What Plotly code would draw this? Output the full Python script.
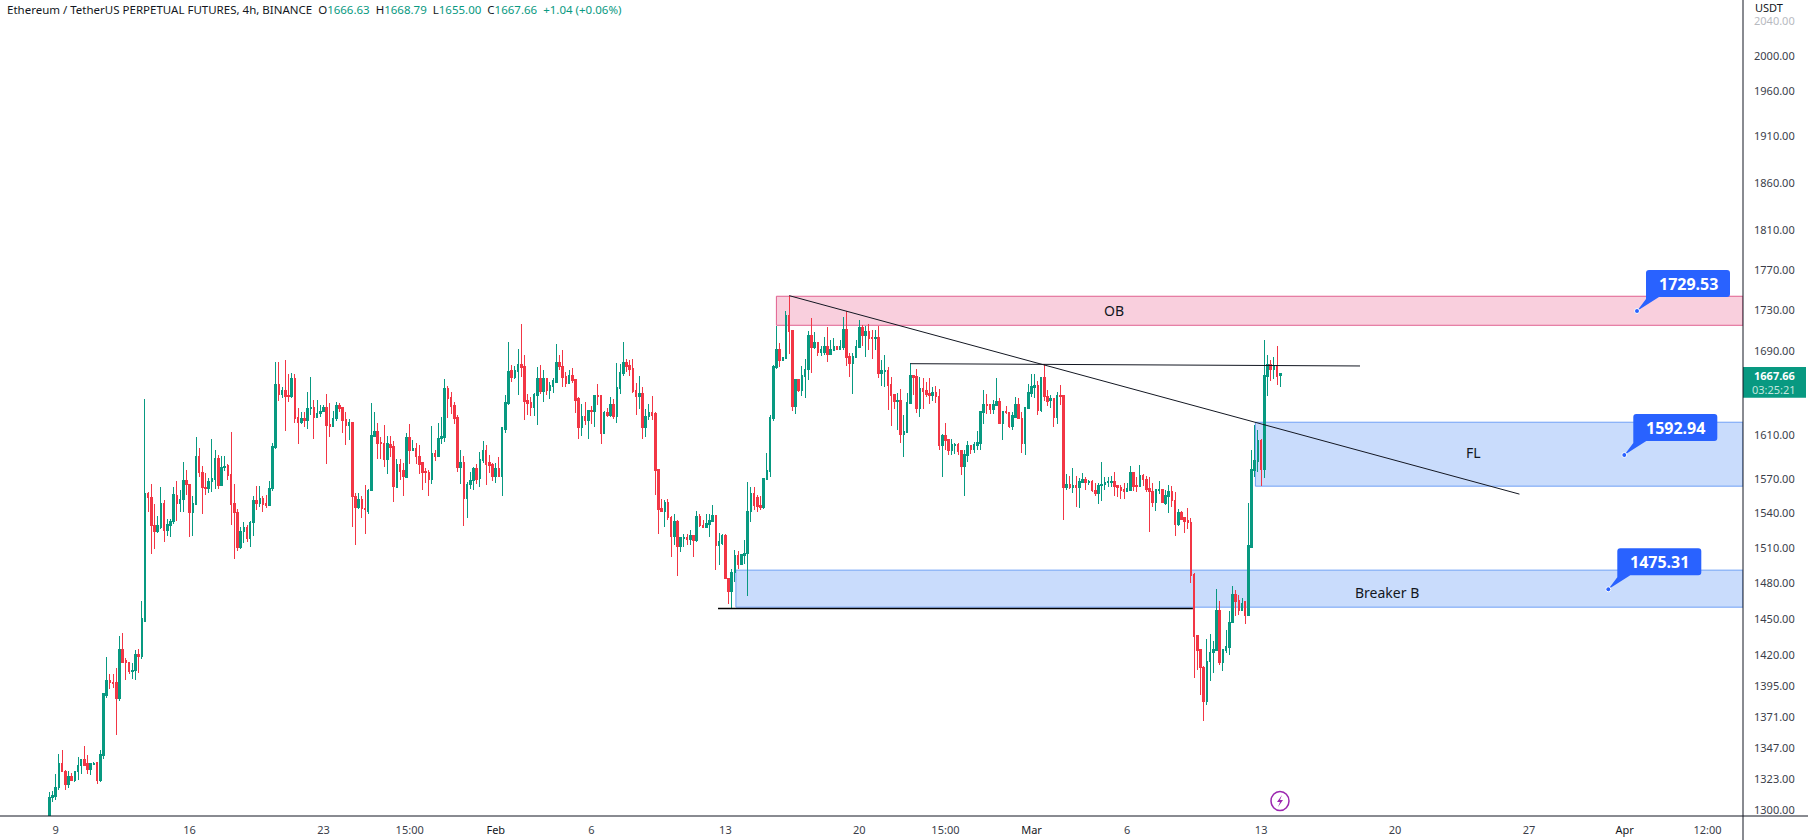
import math
import pandas as pd
import plotly.graph_objects as go

GREEN = "#089981"
RED = "#F23645"
BLUE = "#2962FF"
INK = "#131722"
FONT = "Noto Sans"
PLOT_W, PLOT_H = 1743, 816

opens = [
1296,1309,1310,1317,1335,1329,1319,1325,1322,1329,
1333,1338,1335,1330,1334,1336,1322,1341,1388,1400,
1398,1398,1385,1425,1416,1414,1407,1408,1421,1419,
1448,1558,1554,1529,1524,1528,1549,1525,1529,1533,
1556,1549,1552,1569,1566,1541,1548,1591,1576,1563,
1562,1568,1570,1589,1565,1581,1583,1575,1549,1541,
1510,1524,1528,1518,1532,1551,1549,1553,1549,1547,
1562,1599,1658,1648,1652,1647,1646,1663,1627,1622,
1626,1624,1635,1636,1627,1630,1632,1636,1620,1618,
1626,1638,1636,1625,1619,1622,1555,1545,1552,1544,
1542,1560,1609,1614,1604,1603,1588,1602,1600,1563,
1584,1578,1572,1608,1596,1598,1591,1585,1577,1576,
1570,1594,1591,1607,1608,1654,1645,1638,1627,1581,
1585,1553,1566,1569,1580,1571,1587,1596,1585,1584,
1573,1580,1573,1616,1640,1671,1664,1670,1677,1675,
1643,1641,1636,1647,1663,1651,1663,1652,1656,1660,
1679,1675,1665,1659,1666,1662,1644,1617,1628,1624,
1633,1632,1647,1647,1612,1631,1629,1639,1628,1654,
1668,1679,1676,1673,1652,1646,1649,1617,1628,1631,
1630,1579,1544,1542,1550,1536,1520,1533,1511,1518,
1519,1517,1521,1516,1537,1529,1528,1530,1533,1538,
1512,1514,1521,1484,1473,1489,1503,1496,1503,1505,
1542,1558,1554,1547,1545,1570,1577,1626,1674,1691,
1681,1682,1724,1710,1637,1662,1652,1665,1672,1705,
1693,1698,1688,1688,1694,1686,1690,1694,1691,1693,
1711,1684,1678,1683,1693,1713,1705,1709,1703,1702,
1703,1668,1670,1671,1658,1648,1642,1643,1611,1613,
1640,1666,1665,1635,1654,1652,1649,1647,1650,1646,
1601,1610,1606,1596,1601,1602,1596,1582,1592,1601,
1597,1601,1603,1631,1639,1639,1634,1638,1642,1621,
1632,1631,1618,1627,1639,1626,1603,1635,1649,1655,
1657,1633,1664,1646,1643,1644,1627,1647,1647,1563,
1566,1563,1565,1563,1567,1570,1567,1568,1560,1558,
1565,1566,1567,1567,1568,1565,1563,1561,1559,1560,
1576,1565,1564,1574,1570,1562,1559,1550,1560,1561,
1549,1555,1559,1551,1530,1541,1536,1534,1532,1487,
1436,1425,1410,1383,1415,1422,1424,1457,1414,1424,
1426,1447,1470,1465,1457,1464,1453,1510,1578,1586,
1605,1579,1665,1677,1672,1676,1666.63]

highs = [
1313,1314,1327,1342,1345,1330,1329,1328,1329,1340,
1338,1348,1341,1335,1336,1336,1345,1389,1419,1405,
1405,1410,1436,1438,1418,1414,1414,1424,1425,1465,
1644,1559,1566,1548,1538,1563,1552,1535,1535,1563,
1569,1561,1586,1579,1566,1555,1609,1599,1582,1576,
1571,1607,1597,1592,1591,1591,1584,1613,1566,1544,
1528,1532,1530,1533,1555,1564,1564,1555,1556,1569,
1603,1679,1679,1655,1681,1668,1669,1668,1636,1632,
1632,1651,1665,1643,1643,1638,1638,1649,1640,1633,
1641,1640,1636,1632,1625,1622,1558,1558,1555,1565,
1562,1640,1632,1622,1609,1620,1610,1610,1605,1589,
1589,1585,1612,1621,1606,1603,1601,1585,1580,1579,
1619,1597,1622,1627,1663,1656,1651,1641,1629,1597,
1591,1568,1577,1581,1584,1595,1605,1601,1592,1585,
1585,1590,1617,1648,1698,1676,1675,1692,1716,1686,
1649,1646,1650,1674,1676,1671,1664,1660,1664,1696,
1686,1691,1670,1671,1673,1663,1646,1639,1641,1634,
1637,1647,1658,1648,1633,1636,1646,1644,1678,1677,
1698,1682,1681,1682,1659,1666,1655,1635,1639,1647,
1632,1579,1553,1552,1553,1538,1539,1534,1519,1522,
1522,1525,1521,1542,1539,1534,1539,1539,1547,1538,
1523,1522,1522,1484,1492,1508,1507,1505,1517,1568,
1563,1563,1556,1555,1571,1594,1629,1676,1714,1697,
1683,1729,1744,1710,1662,1663,1675,1682,1709,1722,
1708,1698,1695,1703,1713,1700,1702,1694,1700,1723,
1729,1688,1688,1700,1720,1715,1714,1716,1710,1710,
1714,1681,1686,1674,1665,1649,1650,1653,1629,1650,
1678,1666,1672,1665,1664,1660,1664,1655,1656,1653,
1611,1622,1607,1607,1603,1603,1596,1597,1605,1601,
1604,1614,1632,1652,1649,1639,1643,1664,1645,1632,
1637,1632,1632,1646,1645,1632,1636,1658,1668,1668,
1661,1665,1677,1652,1648,1644,1651,1657,1647,1575,
1573,1580,1573,1571,1576,1572,1570,1570,1567,1567,
1586,1572,1572,1573,1577,1565,1565,1567,1567,1582,
1576,1572,1583,1575,1573,1572,1567,1562,1569,1562,
1561,1565,1564,1559,1544,1542,1537,1545,1536,1488,
1436,1425,1411,1433,1437,1432,1475,1465,1425,1441,
1456,1477,1474,1470,1467,1465,1549,1597,1620,1615,
1607,1700,1686,1681,1684,1695,1668.79]

lows = [
1290,1306,1307,1315,1329,1315,1316,1322,1321,1322,
1327,1333,1327,1326,1334,1319,1321,1338,1386,1393,
1394,1357,1383,1414,1400,1405,1401,1400,1406,1417,
1448,1541,1505,1509,1523,1526,1515,1520,1519,1531,
1533,1541,1541,1556,1519,1520,1547,1572,1539,1556,
1558,1559,1562,1562,1564,1578,1570,1530,1500,1507,
1509,1514,1515,1511,1520,1543,1546,1541,1545,1547,
1560,1598,1642,1645,1614,1641,1645,1622,1602,1621,
1618,1616,1629,1607,1626,1627,1632,1584,1609,1618,
1623,1632,1612,1601,1606,1528,1512,1544,1536,1522,
1539,1560,1609,1589,1589,1581,1575,1590,1550,1563,
1570,1555,1572,1584,1596,1584,1575,1561,1567,1555,
1566,1587,1591,1602,1604,1626,1630,1621,1577,1566,
1529,1536,1562,1561,1566,1563,1585,1565,1576,1569,
1567,1573,1555,1612,1638,1660,1663,1648,1665,1624,
1629,1628,1628,1620,1649,1641,1648,1644,1650,1659,
1671,1655,1655,1658,1659,1631,1607,1610,1620,1607,
1621,1618,1638,1602,1611,1627,1627,1625,1622,1649,
1666,1670,1666,1650,1629,1635,1607,1609,1624,1624,
1556,1522,1541,1528,1534,1502,1512,1486,1506,1511,
1512,1512,1502,1515,1528,1527,1527,1519,1532,1491,
1495,1512,1484,1462,1459,1481,1492,1495,1496,1469,
1532,1543,1541,1543,1544,1570,1572,1623,1672,1674,
1681,1682,1687,1633,1630,1651,1647,1645,1662,1669,
1692,1685,1685,1686,1679,1686,1690,1691,1691,1691,
1675,1665,1649,1683,1693,1695,1684,1691,1682,1691,
1664,1656,1655,1634,1619,1635,1615,1603,1590,1613,
1640,1648,1631,1627,1635,1646,1639,1642,1640,1597,
1572,1597,1592,1592,1593,1592,1574,1555,1586,1593,
1594,1597,1597,1621,1630,1630,1630,1638,1621,1606,
1630,1617,1615,1626,1625,1594,1592,1635,1646,1645,
1629,1632,1642,1637,1636,1618,1621,1638,1534,1561,
1562,1558,1546,1545,1567,1561,1565,1559,1555,1548,
1551,1561,1563,1563,1555,1554,1553,1553,1559,1560,
1560,1559,1563,1564,1559,1524,1546,1542,1557,1549,
1547,1540,1546,1520,1529,1534,1523,1526,1480,1402,
1408,1388,1368,1380,1399,1406,1424,1412,1407,1422,
1420,1447,1452,1453,1457,1446,1453,1510,1572,1577,
1564,1571,1647,1661,1663,1657,1655.00]

closes = [
1309,1311,1317,1335,1329,1319,1325,1322,1329,1333,
1338,1333,1330,1335,1335,1322,1342,1389,1400,1398,
1397,1385,1425,1414,1414,1407,1408,1421,1419,1450,
1558,1554,1529,1524,1529,1549,1525,1530,1533,1557,
1549,1552,1569,1566,1541,1549,1591,1576,1563,1562,
1568,1571,1589,1565,1581,1582,1574,1548,1541,1510,
1524,1528,1518,1532,1551,1549,1553,1548,1547,1562,
1600,1658,1648,1652,1646,1646,1663,1626,1622,1626,
1624,1635,1636,1627,1630,1632,1636,1619,1618,1626,
1638,1635,1624,1619,1622,1555,1545,1552,1544,1543,
1560,1610,1614,1603,1603,1588,1603,1599,1564,1584,
1577,1573,1608,1596,1598,1591,1584,1576,1576,1570,
1594,1591,1607,1609,1654,1644,1637,1626,1581,1585,
1553,1566,1569,1580,1570,1588,1596,1584,1583,1573,
1580,1573,1617,1641,1670,1664,1671,1677,1674,1642,
1640,1636,1648,1663,1651,1663,1652,1657,1661,1679,
1675,1664,1659,1666,1661,1643,1617,1628,1624,1633,
1632,1647,1646,1612,1631,1629,1639,1628,1655,1669,
1679,1675,1672,1651,1646,1649,1617,1628,1631,1629,
1578,1543,1542,1550,1536,1520,1533,1511,1519,1519,
1517,1521,1516,1537,1529,1528,1531,1534,1538,1512,
1515,1521,1484,1473,1489,1503,1496,1504,1505,1542,
1558,1547,1546,1545,1571,1578,1627,1675,1691,1681,
1683,1724,1709,1637,1662,1652,1666,1672,1705,1693,
1698,1688,1691,1694,1686,1691,1694,1691,1694,1711,
1683,1678,1684,1694,1713,1705,1709,1702,1702,1703,
1668,1671,1671,1657,1647,1642,1643,1611,1614,1641,
1666,1664,1635,1654,1651,1648,1647,1650,1646,1601,
1610,1605,1596,1602,1602,1595,1582,1593,1601,1597,
1602,1604,1632,1639,1638,1634,1639,1642,1621,1632,
1631,1618,1629,1639,1626,1603,1636,1650,1656,1657,
1633,1664,1646,1642,1644,1627,1647,1646,1563,1566,
1563,1565,1563,1568,1570,1567,1568,1560,1558,1565,
1566,1567,1568,1568,1564,1563,1560,1559,1562,1576,
1564,1564,1574,1570,1561,1559,1550,1561,1561,1550,
1556,1559,1551,1530,1541,1535,1533,1532,1486,1435,
1424,1410,1383,1415,1422,1425,1457,1414,1425,1427,
1447,1470,1464,1457,1463,1453,1512,1579,1587,1605,
1579,1666,1677,1672,1676,1665,1667.66]

axis_prices = [1300,1323,1347,1371,1395,1420,1450,1480,1510,1540,1570,1610,
               1690,1730,1770,1810,1860,1910,1960,2000,2040]
time_ticks = ["2023-01-09 03:00","2023-01-16 03:00","2023-01-23 03:00","2023-01-27 15:00",
              "2023-02-01 03:00","2023-02-06 03:00","2023-02-13 03:00","2023-02-20 03:00",
              "2023-02-24 15:00","2023-03-01 03:00","2023-03-06 03:00","2023-03-13 03:00",
              "2023-03-20 03:00","2023-03-27 03:00","2023-04-01 03:00","2023-04-05 11:00"]
m = f'<span style="color:{INK}">'
time_labels = ["9","16","23","15:00",m+"Feb</span>","6","13","20","15:00",m+"Mar</span>","6","13","20","27",m+"Apr</span>","12:00"]

ob_zone = (1743.4, 1714.7)
fl_zone = (1622.3, 1564.1)
breaker_zone = (1490.8, 1459.6)
callouts = [1729.53, 1592.94, 1475.31]

start = pd.Timestamp("2023-01-08 19:00")
def at(i):
    return start + pd.Timedelta(hours=4 * i)
times = [at(i) for i in range(len(opens))]
x_range = [at(-15.46), at(531.1)]
y_range = [math.log10(1295.4), math.log10(2065.0)]

fig = go.Figure(go.Candlestick(
    x=times, open=opens, high=highs, low=lows, close=closes,
    whiskerwidth=0, showlegend=False, hoverinfo="skip",
    increasing=dict(line=dict(color=GREEN, width=1), fillcolor=GREEN),
    decreasing=dict(line=dict(color=RED, width=1), fillcolor=RED),
))

def zone(i0, prices, fill, edge):
    fig.add_shape(type="rect", layer="below", xref="x", yref="y",
                  x0=at(i0), x1=x_range[1], y0=prices[0], y1=prices[1],
                  fillcolor=fill, line=dict(color=edge, width=1))

zone(228, ob_zone, "#F9CFDD", "#E0608F")
zone(378.2, fl_zone, "#C9DCFC", "#6FA0F5")
zone(215.3, breaker_zone, "#C9DCFC", "#6FA0F5")

def seg(i0, p0, i1, p1, width=1, color=INK):
    fig.add_shape(type="line", xref="x", yref="y", x0=at(i0), y0=p0, x1=at(i1), y1=p1,
                  line=dict(color=color, width=width))

seg(232, 1744, 461, 1557, 1)
seg(270, 1677.5, 411, 1675.3, 1)
seg(209.7, 1458.5, 358.6, 1458.5, 1.5, "#000000")

def paper_x(px):
    return px / PLOT_W
def paper_y(py):
    return 1 - py / PLOT_H

def note(px, py, text, size=11, color=INK, anchor="center"):
    fig.add_annotation(xref="paper", yref="paper", x=paper_x(px), y=paper_y(py), text=text,
                       showarrow=False, xanchor=anchor, yanchor="middle",
                       font=dict(family=FONT, size=size, color=color))

for price, dot_px, dot_py in zip(callouts, [1637, 1624.3, 1608.3], [311, 455, 589.3]):
    anchor = dict(xref="paper", yref="paper", xsizemode="pixel", ysizemode="pixel",
                  xanchor=paper_x(dot_px), yanchor=paper_y(dot_py))
    bubble = "M 0 0 L 9 12 L 9 38 Q 9 41 12 41 L 90 41 Q 93 41 93 38 L 93 17 Q 93 14 90 14 L 22 14 Z"
    fig.add_shape(type="path", path=bubble, fillcolor=BLUE, line=dict(color=BLUE, width=0), **anchor)
    fig.add_shape(type="circle", x0=-2.5, x1=2.5, y0=-2.5, y1=2.5,
                  fillcolor=BLUE, line=dict(color="white", width=1), **anchor)
    note(dot_px + 51, dot_py - 27.5, f"<b>{price:.2f}</b>", size=16, color="white")

note(1114, 310, "OB", 14)
note(1473, 452, "FL", 14)
note(1387, 592, "Breaker B", 14)

g = f'<span style="color:{GREEN}">'
gap = "\u00a0\u00a0"
header = (f"Ethereum / TetherUS PERPETUAL FUTURES, 4h, BINANCE{gap}O{g}1666.63</span>{gap}H{g}1668.79</span>"
          f"{gap}L{g}1655.00</span>{gap}C{g}1667.66</span>{gap}{g}+1.04 (+0.06%)</span>")
note(5, 10, header, 11.5, INK, "left")
note(1753, 8, "USDT", 11, INK, "left")

# last-price tag on the axis
fig.add_shape(type="rect", xref="paper", yref="paper", x0=1, x1=paper_x(1806),
              y0=paper_y(397.7), y1=paper_y(367), fillcolor=GREEN, line=dict(width=0))
note(1774, 375.7, "<b>1667.66</b>", 11, "white")
note(1774, 389.7, "03:25:21", 11, "#C2E6DF")

# axis frame extensions
fig.add_shape(type="line", xref="paper", yref="paper", x0=1, x1=1, y0=-24 / PLOT_H, y1=1,
              line=dict(color=INK, width=1))
fig.add_shape(type="line", xref="paper", yref="paper", x0=0, x1=1808 / PLOT_W, y0=0, y1=0,
              line=dict(color=INK, width=1))

# purple lightning badge
badge = dict(xref="paper", yref="paper", xsizemode="pixel", ysizemode="pixel",
             xanchor=paper_x(1280), yanchor=paper_y(801))
fig.add_shape(type="circle", x0=-9, x1=9, y0=-9.5, y1=9.5, fillcolor="white",
              line=dict(color="#9C27B0", width=1.5), **badge)
fig.add_shape(type="path", path="M 2 6 L -3 -1 L 0 -1 L -2 -6 L 3 1 L 0 1 Z",
              fillcolor="#9C27B0", line=dict(width=0), **badge)

axis_labels = [f"{p}.00" if p != 2040 else '<span style="color:#B8BABF">2040.00</span>' for p in axis_prices]

fig.update_layout(
    width=1808, height=840, margin=dict(l=0, r=65, t=0, b=24, pad=0),
    paper_bgcolor="white", plot_bgcolor="white", showlegend=False,
    font=dict(family=FONT, size=11, color=INK),
    xaxis=dict(type="date", range=x_range, rangeslider=dict(visible=False), showgrid=False,
               zeroline=False, showline=False, ticks="", tickmode="array",
               tickvals=time_ticks, ticktext=time_labels, ticklabelstandoff=6,
               tickfont=dict(family=FONT, size=11, color="#3A3E4A")),
    yaxis=dict(type="log", side="right", range=y_range, showgrid=False, zeroline=False,
               showline=False, ticks="", tickmode="array", tickvals=axis_prices,
               ticktext=axis_labels, ticklabelstandoff=10,
               tickfont=dict(family=FONT, size=11, color="#3A3E4A")),
)

fig.write_html("out.html", config=dict(displayModeBar=False),
               post_script="document.body.style.margin='0';document.body.style.overflow='hidden';"
                           "document.querySelectorAll('.boxlayer path').forEach(function(p){p.style.shapeRendering='crispEdges';});")
